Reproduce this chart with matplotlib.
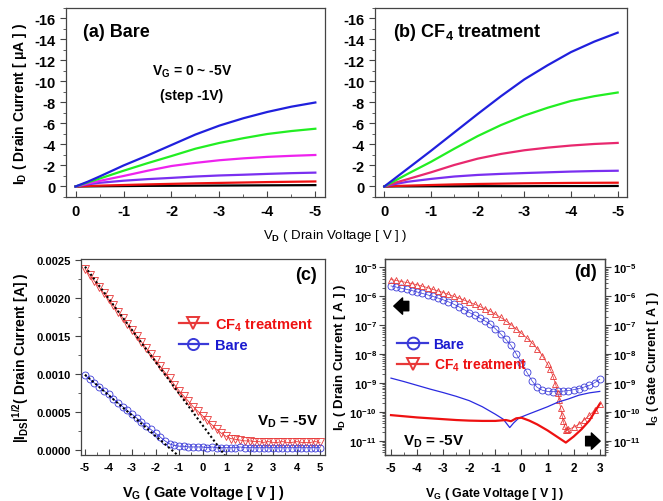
import numpy as np
import matplotlib
matplotlib.use('Agg')
import matplotlib.pyplot as plt
from matplotlib.ticker import MultipleLocator, FixedLocator, FixedFormatter, LogLocator, NullFormatter

plt.rcParams['font.family'] = ['Liberation Sans', 'DejaVu Sans']
plt.rcParams['font.weight'] = 'bold'
plt.rcParams['axes.labelweight'] = 'bold'
plt.rcParams['axes.unicode_minus'] = False
plt.rcParams['mathtext.fontset'] = 'custom'
plt.rcParams['mathtext.rm'] = 'Liberation Sans:bold'
plt.rcParams['mathtext.bf'] = 'Liberation Sans:bold'
plt.rcParams['mathtext.it'] = 'Liberation Sans:bold'
plt.rcParams['mathtext.default'] = 'bf'

# ---- (a), (b) output curves: I_D [uA] vs V_D [V], V_G = 0 .. -5 V
vd = [0, -0.25, -0.5, -1, -1.5, -2, -2.5, -3, -3.5, -4, -4.5, -5]

bare_vg5 = [0, -0.45, -0.95, -2.0, -2.95, -3.95, -4.95, -5.8, -6.5, -7.1, -7.6, -8.0]
bare_vg4 = [0, -0.38, -0.75, -1.5, -2.22, -2.9, -3.6, -4.15, -4.6, -5.0, -5.28, -5.5]
bare_vg3 = [0, -0.28, -0.53, -1.0, -1.5, -1.95, -2.25, -2.5, -2.68, -2.82, -2.92, -3.0]
bare_vg2 = [0, -0.2, -0.35, -0.55, -0.7, -0.82, -0.95, -1.05, -1.12, -1.2, -1.27, -1.32]
bare_vg1 = [0, -0.05, -0.08, -0.14, -0.2, -0.25, -0.3, -0.34, -0.38, -0.42, -0.45, -0.48]
bare_vg0 = [0, -0.01, -0.02, -0.04, -0.06, -0.07, -0.08, -0.09, -0.1, -0.11, -0.12, -0.13]

cf4_vg5 = [0, -0.85, -1.7, -3.4, -5.15, -6.9, -8.6, -10.2, -11.55, -12.8, -13.8, -14.65]
cf4_vg4 = [0, -0.6, -1.2, -2.35, -3.6, -4.8, -5.85, -6.75, -7.5, -8.15, -8.6, -8.95]
cf4_vg3 = [0, -0.38, -0.7, -1.35, -2.05, -2.65, -3.1, -3.45, -3.7, -3.9, -4.05, -4.15]
cf4_vg2 = [0, -0.25, -0.45, -0.72, -0.95, -1.1, -1.2, -1.28, -1.35, -1.42, -1.47, -1.5]
cf4_vg1 = [0, -0.05, -0.08, -0.14, -0.2, -0.24, -0.27, -0.3, -0.32, -0.34, -0.35, -0.36]
cf4_vg0 = [0, -0.01, -0.01, -0.02, -0.02, -0.03, -0.03, -0.03, -0.04, -0.04, -0.04, -0.05]

# ---- (c) sqrt(|I_DS|) vs V_G
vg_c = [round(-5 + 0.2 * i, 1) for i in range(51)]
sqrt_cf4 = [0.00238, 0.00230, 0.00222, 0.00214, 0.00206, 0.00198, 0.00190, 0.00182, 0.00174, 0.00166,
            0.00158, 0.00150, 0.00142, 0.00134, 0.00126, 0.00118, 0.00110, 0.00102, 0.00094, 0.00086,
            0.00078, 0.00071, 0.00064, 0.00057, 0.00051, 0.00045, 0.00039, 0.00033, 0.00027, 0.00022,
            0.00018, 0.00015, 0.00014, 0.00013, 0.00012, 0.00012, 0.00011, 0.00011, 0.00010, 0.00011,
            0.00010, 0.00010, 0.00011, 0.00010, 0.00010, 0.00011, 0.00010, 0.00010, 0.00010, 0.00011, 0.00010]
sqrt_bare = [0.00098, 0.00093, 0.00088, 0.00083, 0.00078, 0.00073, 0.00067, 0.00062, 0.00057, 0.00052,
             0.00047, 0.00042, 0.00037, 0.00032, 0.00027, 0.00022, 0.00017, 0.00012, 0.00008, 0.00006,
             0.00005, 0.00005, 0.00004, 0.00004, 0.00004, 0.00004, 0.00003, 0.00004, 0.00003, 0.00003,
             0.00003, 0.00003, 0.00003, 0.00004, 0.00003, 0.00003, 0.00003, 0.00003, 0.00003, 0.00003,
             0.00003, 0.00003, 0.00003, 0.00003, 0.00003, 0.00003, 0.00003, 0.00003, 0.00003, 0.00003, 0.00003]
fit_cf4_x = [-5.0, 0.95]
fit_cf4_y = [0.00241, -0.00007]
fit_bare_x = [-5.0, -1.05]
fit_bare_y = [0.00099, -0.00007]

# ---- (d) transfer curves, log10 of current [A]
vg_d = [round(-5 + 0.2 * i, 1) for i in range(41)]
log_id_bare = [-5.64, -5.68, -5.72, -5.76, -5.80, -5.85, -5.90, -5.95, -6.00, -6.06,
               -6.12, -6.19, -6.27, -6.36, -6.46, -6.56, -6.65, -6.75, -6.85, -6.96,
               -7.12, -7.30, -7.49, -7.70, -7.99, -8.30, -8.62, -8.92, -9.15, -9.25,
               -9.29, -9.30, -9.29, -9.28, -9.26, -9.23, -9.19, -9.14, -9.08, -8.99, -8.87]
vg_d_cf4 = [-5.0, -4.8, -4.6, -4.4, -4.2, -4.0, -3.8, -3.6, -3.4, -3.2, -3.0, -2.8, -2.6, -2.4,
            -2.2, -2.0, -1.8, -1.6, -1.4, -1.2, -1.0, -0.8, -0.6, -0.4, -0.2, 0.0, 0.2, 0.4,
            0.6, 0.8, 1.0, 1.1, 1.2, 1.3, 1.4, 1.45, 1.5, 1.55, 1.6, 1.65, 1.7, 1.75, 1.8,
            2.0, 2.2, 2.4, 2.6, 2.8, 3.0]
log_id_cf4 = [-5.42, -5.45, -5.49, -5.52, -5.56, -5.60, -5.65, -5.70, -5.76, -5.81, -5.87, -5.93,
              -6.00, -6.06, -6.13, -6.20, -6.27, -6.35, -6.43, -6.51, -6.62, -6.73, -6.85, -6.98,
              -7.13, -7.28, -7.44, -7.61, -7.81, -8.05, -8.35, -8.52, -8.75, -9.02, -9.35, -9.6,
              -9.88, -10.1, -10.31, -10.48, -10.62, -10.64, -10.6, -10.53, -10.43, -10.28, -10.12,
              -9.94, -9.73]
vg_ig_bare = [-5, -4.5, -4, -3.5, -3, -2.5, -2, -1.5, -1, -0.7, -0.45, -0.3, -0.1, 0.2, 0.6,
              1.0, 1.4, 1.8, 2.2, 2.6, 3.0]
log_ig_bare = [-8.83, -8.95, -9.08, -9.21, -9.33, -9.46, -9.61, -9.82, -10.08, -10.25, -10.54,
               -10.38, -10.21, -10.1, -9.96, -9.82, -9.66, -9.55, -9.42, -9.34, -9.29]
vg_ig_cf4 = [-5, -4.5, -4, -3.5, -3, -2.5, -2, -1.5, -1, -0.6, -0.4, -0.2, 0.0, 0.3, 0.6, 1.0,
             1.4, 1.7, 2.0, 2.3, 2.6, 3.0]
log_ig_cf4 = [-10.11, -10.15, -10.19, -10.22, -10.25, -10.28, -10.30, -10.31, -10.31, -10.28,
              -10.32, -10.22, -10.2, -10.3, -10.43, -10.64, -10.88, -11.06, -10.85, -10.6, -10.3, -9.72]

colors_a = ['black', '#ee1111', '#7a2ff0', '#ee22ee', '#22ee22', '#2020dd']
colors_b = ['black', '#ee1111', '#7a2ff0', '#e8286e', '#22ee22', '#2020dd']
spine_c = '#444444'

fig = plt.figure(figsize=(6.63, 5.02), dpi=100)
ax_a = fig.add_axes([0.0995, 0.6056, 0.3906, 0.3765])
ax_b = fig.add_axes([0.5656, 0.6056, 0.3801, 0.3765])
ax_c = fig.add_axes([0.1222, 0.0916, 0.3680, 0.3904])
ax_d = fig.add_axes([0.5807, 0.0916, 0.3318, 0.3904])


def style(ax, size):
    for s in ax.spines.values():
        s.set_color(spine_c)
        s.set_linewidth(0.9)
    ax.tick_params(axis='x', which='both', direction='in', labelsize=size, pad=5, color=spine_c)
    ax.tick_params(axis='y', which='both', direction='out', labelsize=size, color=spine_c)
    ax.tick_params(which='major', length=4)
    ax.tick_params(which='minor', length=2)


# (a) and (b)
for ax, curves, cols in [(ax_a, [bare_vg0, bare_vg1, bare_vg2, bare_vg3, bare_vg4, bare_vg5], colors_a),
                         (ax_b, [cf4_vg0, cf4_vg1, cf4_vg2, cf4_vg3, cf4_vg4, cf4_vg5], colors_b)]:
    for y, c in zip(curves, cols):
        ax.plot(vd, y, color=c, lw=1.6)
    ax.set_xlim(0.2, -5.2)
    ax.set_ylim(1.0, -17)
    ax.xaxis.set_major_locator(MultipleLocator(1))
    ax.xaxis.set_minor_locator(MultipleLocator(0.5))
    ax.yaxis.set_major_locator(MultipleLocator(2))
    ax.yaxis.set_minor_locator(MultipleLocator(1))
    style(ax, 10.5)

ax_a.text(0.066, 0.873, '(a) Bare', transform=ax_a.transAxes, fontsize=13, ha='left', va='center')
ax_a.text(0.486, 0.667, 'V$_G$ = 0 ~ -5V', transform=ax_a.transAxes, fontsize=10, ha='center', va='center')
ax_a.text(0.486, 0.54, '(step -1V)', transform=ax_a.transAxes, fontsize=10, ha='center', va='center')
ax_b.text(0.071, 0.878, '(b) CF$_4$ treatment', transform=ax_b.transAxes, fontsize=13, ha='left', va='center')
ax_a.set_ylabel('I$_D$ ( Drain Current [ μA ] )', fontsize=10, labelpad=4)
fig.text(0.505, 0.53, 'V$_D$ ( Drain Voltage [ V ] )', fontsize=9.5, fontweight='normal',
         ha='center', va='center')

# (c)
ax_c.plot(vg_c, sqrt_cf4, color='#e83838', marker='v', ms=5.5, mfc='none', mew=0.6, lw=0.6,
          label='CF$_4$ treatment')
ax_c.plot(vg_c, sqrt_bare, color='#3a3ad8', marker='o', ms=5, mfc='none', mew=0.6, lw=0.6,
          label='Bare')
ax_c.plot(fit_cf4_x, fit_cf4_y, color='black', ls=(0, (1, 1.2)), lw=1.5)
ax_c.plot(fit_bare_x, fit_bare_y, color='black', ls=(0, (1, 1.2)), lw=1.5)
ax_c.set_xlim(-5.17, 5.21)
ax_c.set_ylim(-0.000066, 0.00251)
ax_c.xaxis.set_major_locator(MultipleLocator(1))
ax_c.xaxis.set_minor_locator(MultipleLocator(0.5))
ax_c.yaxis.set_major_locator(MultipleLocator(0.0005))
ax_c.yaxis.set_minor_locator(MultipleLocator(0.00025))
ax_c.yaxis.set_major_formatter(plt.FuncFormatter(lambda v, p: '%.4f' % v))
style(ax_c, 8)
ax_c.set_ylabel('|I$_{DS}$|$^{1/2}$( Drain Current [A] )', fontsize=10, labelpad=4)
ax_c.set_xlabel('V$_G$ ( Gate Voltage [ V ] )', fontsize=10.5, labelpad=8)
ax_c.text(0.967, 0.923, '(c)', transform=ax_c.transAxes, fontsize=13, ha='right', va='center')
ax_c.text(0.971, 0.173, 'V$_D$ = -5V', transform=ax_c.transAxes, fontsize=11, ha='right', va='center')
leg_c = ax_c.legend(loc='upper left', bbox_to_anchor=(0.37, 0.745), frameon=False, fontsize=10.5,
                    handlelength=2.0, handletextpad=0.5, labelspacing=0.35, borderpad=0,
                    markerscale=1.6)
for t, c in zip(leg_c.get_texts(), ['#ee1111', '#1a1ad0']):
    t.set_color(c)
for h in leg_c.get_lines():
    h.set_linewidth(1.6)
    h.set_markeredgewidth(1.4)

# (d)
ax_d.semilogy(vg_d, 10 ** np.array(log_id_bare), color='#3a3ad8', marker='o', ms=5, mfc='none',
              mew=0.6, lw=0.5, label='Bare')
ax_d.semilogy(vg_d_cf4, 10 ** np.array(log_id_cf4), color='#e83838', marker='^', ms=5, mfc='none',
              mew=0.6, lw=0.5, label='CF$_4$ treatment')
ax_d.semilogy(vg_ig_bare, 10 ** np.array(log_ig_bare), color='#2a2ae0', lw=0.9)
ax_d.semilogy(vg_ig_cf4, 10 ** np.array(log_ig_cf4), color='#ee1111', lw=1.6)
ax_d.set_xlim(-5.23, 3.2)
ax_d.set_ylim(10 ** -11.49, 10 ** -4.71)
ax_d.xaxis.set_major_locator(MultipleLocator(1))
ax_d.xaxis.set_minor_locator(MultipleLocator(0.5))
dec = [1e-11, 1e-10, 1e-9, 1e-8, 1e-7, 1e-6, 1e-5]
dec_lab = ['10$^{-11}$', '10$^{-10}$', '10$^{-9}$', '10$^{-8}$', '10$^{-7}$', '10$^{-6}$', '10$^{-5}$']
ax_d.yaxis.set_major_locator(FixedLocator(dec))
ax_d.yaxis.set_major_formatter(FixedFormatter(dec_lab))
ax_d.yaxis.set_minor_locator(LogLocator(base=10, subs=np.arange(2, 10), numticks=20))
ax_d.yaxis.set_minor_formatter(NullFormatter())
style(ax_d, 8.5)
ax_d.tick_params(axis='y', labelsize=8, pad=2)
ax_r = ax_d.twinx()
ax_r.set_yscale('log')
ax_r.set_ylim(ax_d.get_ylim())
ax_r.yaxis.set_major_locator(FixedLocator(dec))
ax_r.yaxis.set_major_formatter(FixedFormatter(dec_lab))
ax_r.yaxis.set_minor_locator(LogLocator(base=10, subs=np.arange(2, 10), numticks=20))
ax_r.yaxis.set_minor_formatter(NullFormatter())
for s in ax_r.spines.values():
    s.set_color(spine_c)
    s.set_linewidth(0.9)
ax_r.tick_params(axis='y', which='both', direction='out', labelsize=8, color=spine_c, pad=2)
ax_r.tick_params(which='major', length=4)
ax_r.tick_params(which='minor', length=2)
ax_d.set_ylabel('I$_D$ ( Drain Current [ A ] )', fontsize=9.5, labelpad=1)
ax_r.set_ylabel('I$_G$ ( Gate Current [ A ] )', fontsize=9, labelpad=3)
ax_d.set_xlabel('V$_G$ ( Gate Voltage [ V ] )', fontsize=9, labelpad=8)
ax_d.text(0.964, 0.934, '(d)', transform=ax_d.transAxes, fontsize=13, ha='right', va='center')
ax_d.text(0.082, 0.071, 'V$_D$ = -5V', transform=ax_d.transAxes, fontsize=11, ha='left', va='center')
leg_d = ax_d.legend(loc='upper left', bbox_to_anchor=(0.025, 0.64), frameon=False, fontsize=10,
                    handlelength=2.2, handletextpad=0.4, labelspacing=0.45, borderpad=0,
                    markerscale=1.7)
leg_d.legend_handles[1].set_marker('v')
for t, c in zip(leg_d.get_texts(), ['#1a1ad0', '#ee1111']):
    t.set_color(c)
for h in leg_d.get_lines():
    h.set_linewidth(1.6)
    h.set_markeredgewidth(1.4)

arrow = dict(arrowstyle='simple,head_length=0.7,head_width=1.3,tail_width=0.75', color='black',
             mutation_scale=9, shrinkA=0, shrinkB=0)
ax_d.annotate('', xy=(0.04, 0.76), xytext=(0.108, 0.76), xycoords='axes fraction',
              textcoords='axes fraction', arrowprops=arrow)
ax_d.annotate('', xy=(0.978, 0.071), xytext=(0.912, 0.071), xycoords='axes fraction',
              textcoords='axes fraction', arrowprops=arrow)

fig.savefig('out.png', dpi=100)
